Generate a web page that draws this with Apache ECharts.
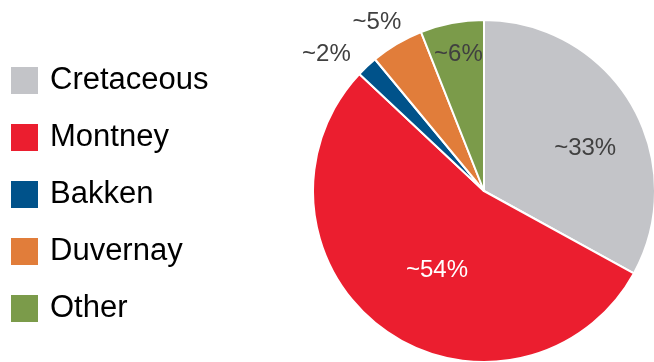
<!DOCTYPE html>
<html>
<head>
<meta charset="utf-8">
<script src="https://cdn.jsdelivr.net/npm/echarts@6/dist/echarts.min.js"></script>
<style>
  html, body { margin: 0; padding: 0; background: #fff; }
  #chart { width: 654px; height: 362px; }
</style>
</head>
<body>
<div id="chart"></div>
<script>
// Production share by play
const categories = ['Cretaceous', 'Montney', 'Bakken', 'Duvernay', 'Other'];
const shares = [33, 54, 2, 5, 6];
const labels = ['~33%', '~54%', '~2%', '~5%', '~6%'];
const colors = ['#C3C4C8', '#EB1E2F', '#00528A', '#E17D3A', '#7B9B4A'];

// Label placement tweaks relative to the slice's inside anchor
const labelOffsets = [[25, 2], [5, 8], [-97, -72], [-62, -92], [-9, -50]];
const labelColors = ['#404040', '#ffffff', '#404040', '#404040', '#404040'];

const chart = echarts.init(document.getElementById('chart'), null, { renderer: 'canvas' });

chart.setOption({
  animation: false,
  color: colors,
  legend: {
    orient: 'vertical',
    left: 9,
    top: 65,
    padding: 0,
    itemWidth: 29,
    itemHeight: 29,
    itemGap: 26,
    icon: 'rect',
    data: categories,
    textStyle: {
      fontFamily: 'Liberation Sans, Arial, sans-serif',
      fontSize: 31,
      lineHeight: 31,
      color: '#000000',
      padding: [0, 0, 0, 6]
    }
  },
  series: [{
    type: 'pie',
    center: [484, 191],
    radius: [0, 171],
    startAngle: 90,
    clockwise: true,
    avoidLabelOverlap: false,
    itemStyle: { borderColor: '#ffffff', borderWidth: 2 },
    labelLine: { show: false },
    emphasis: { disabled: true },
    data: categories.map((name, i) => ({
      name: name,
      value: shares[i],
      label: {
        show: true,
        position: 'inside',
        formatter: labels[i],
        offset: labelOffsets[i],
        color: labelColors[i],
        fontFamily: 'Liberation Sans, Arial, sans-serif',
        fontSize: 24
      }
    }))
  }]
});
</script>
</body>
</html>
